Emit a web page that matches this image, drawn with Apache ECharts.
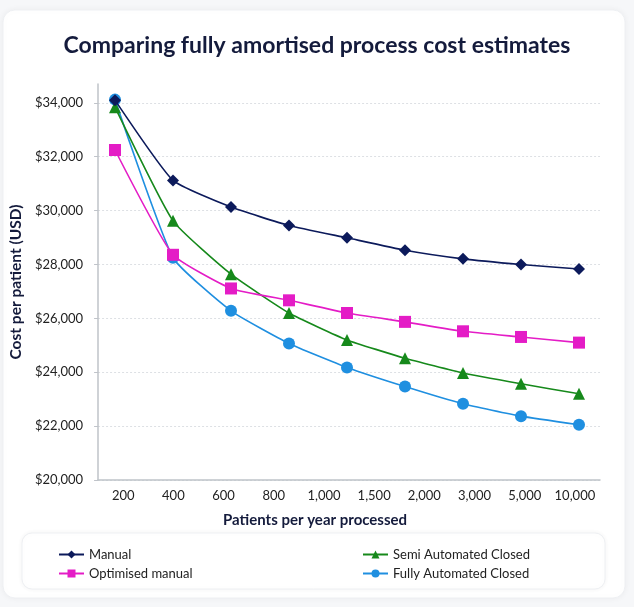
<!DOCTYPE html>
<html>
<head>
<meta charset="utf-8">
<script src="https://cdn.jsdelivr.net/npm/echarts@6/dist/echarts.min.js"></script>
<style>
  html, body { margin: 0; padding: 0; background: #f6f7f9; }
  #chart { width: 634px; height: 607px; }
</style>
</head>
<body>
<div id="chart"></div>
<script>
  // tick labels on the visible axis
  var xLabels = ['200', '400', '600', '800', '1,000', '1,500', '2,000', '3,000', '5,000', '10,000']
  // the plotted points (9 per series)
  var pointIdx = ['p1', 'p2', 'p3', 'p4', 'p5', 'p6', 'p7', 'p8', 'p9']

  var manual = [34100, 31120, 30130, 29450, 28990, 28530, 28210, 28000, 27830]
  var optimisedManual = [32250, 28360, 27110, 26670, 26200, 25870, 25520, 25310, 25100]
  var semiAutomated = [33840, 29620, 27640, 26200, 25200, 24520, 23970, 23570, 23200]
  var fullyAutomated = [34120, 28250, 26280, 25070, 24180, 23470, 22830, 22370, 22050]

  var names = ['Manual', 'Optimised manual', 'Semi Automated Closed', 'Fully Automated Closed']
  var colors = ['#0c1a5b', '#e41cc6', '#16891b', '#1f8fe0']
  var symbols = ['diamond', 'rect', 'triangle', 'circle']
  var sizes = [12, 12, 12, 12]
  var seriesData = [manual, optimisedManual, semiAutomated, fullyAutomated]

  var yMin = 20000
  var yMax = 34700
  var font = 'Lato, "Open Sans", sans-serif'

  var myChart = echarts.init(document.getElementById('chart'))

  var series = []
  for (var i = 0; i < names.length; i++) {
    series.push({
      name: names[i],
      type: 'line',
      xAxisIndex: 1,
      yAxisIndex: 1,
      data: seriesData[i],
      symbol: symbols[i],
      symbolSize: sizes[i],
      smooth: 0.15,
      clip: false,
      lineStyle: { color: colors[i], width: 1.6 },
      itemStyle: { color: colors[i] },
      z: 10 - i
    })
  }

  var option = {
    backgroundColor: 'transparent',
    textStyle: { fontFamily: font },
    graphic: [
      {
        type: 'rect',
        shape: { x: 3, y: 10, width: 622, height: 588, r: 12 },
        style: { fill: '#ffffff', stroke: '#eef0f3', lineWidth: 1, shadowBlur: 6, shadowColor: 'rgba(0,0,0,0.06)' },
        z: -10
      },
      {
        type: 'rect',
        shape: { x: 22, y: 533, width: 583, height: 56, r: 10 },
        style: { fill: '#ffffff', stroke: '#eef0f3', lineWidth: 1, shadowBlur: 5, shadowColor: 'rgba(0,0,0,0.05)' },
        z: -5
      }
    ],
    title: {
      text: 'Comparing fully amortised process cost estimates',
      left: 'center',
      top: 29,
      textStyle: { fontFamily: font, fontSize: 23, fontWeight: 'bold', color: '#141b3c' }
    },
    legend: [
      {
        data: names.slice(0, 2),
        orient: 'vertical',
        left: 53,
        top: 543,
        itemWidth: 25,
        itemHeight: 10,
        itemGap: 6,
        textStyle: { fontFamily: font, fontSize: 13, color: '#222' }
      },
      {
        data: names.slice(2, 4),
        orient: 'vertical',
        left: 357,
        top: 543,
        itemWidth: 25,
        itemHeight: 10,
        itemGap: 6,
        textStyle: { fontFamily: font, fontSize: 13, color: '#222' }
      }
    ],
    grid: [
      { left: 92, right: 34, top: 84, bottom: 127 },
      { left: 115, right: 55, top: 84, bottom: 127 }
    ],
    xAxis: [
      {
        type: 'category',
        gridIndex: 0,
        data: xLabels,
        boundaryGap: true,
        name: 'Patients per year processed',
        nameLocation: 'middle',
        nameGap: 33,
        nameTextStyle: { fontFamily: font, fontSize: 15, fontWeight: 'bold', color: '#141b3c', padding: [0, 68, 0, 0] },
        axisLine: { lineStyle: { color: '#bfc3c9', width: 1.5 } },
        axisTick: { alignWithLabel: true, length: 4, lineStyle: { color: '#bfc3c9' } },
        axisLabel: { fontFamily: font, fontSize: 13, color: '#222', margin: 9, interval: 0 }
      },
      {
        type: 'category',
        gridIndex: 1,
        data: pointIdx,
        boundaryGap: false,
        show: false
      }
    ],
    yAxis: [
      {
        type: 'value',
        gridIndex: 0,
        min: yMin,
        max: yMax,
        interval: 2000,
        name: 'Cost per patient (USD)',
        nameLocation: 'middle',
        nameGap: 66,
        nameTextStyle: { fontFamily: font, fontSize: 15.5, fontWeight: 'bold', color: '#141b3c' },
        axisLine: { show: true, lineStyle: { color: '#bfc3c9', width: 1.5 } },
        axisTick: { show: true, length: 4, lineStyle: { color: '#bfc3c9' } },
        axisLabel: {
          fontFamily: font, fontSize: 13, color: '#222', margin: 15,
          showMaxLabel: false,
          formatter: function (v) { return '$' + v.toLocaleString('en-US') }
        },
        splitLine: { show: true, showMaxLine: false, lineStyle: { color: '#dde0e4', type: [2, 2] } }
      },
      {
        type: 'value',
        gridIndex: 1,
        min: yMin,
        max: yMax,
        show: false,
        splitLine: { show: false }
      }
    ],
    series: series
  }

  myChart.setOption(option)
</script>
</body>
</html>
